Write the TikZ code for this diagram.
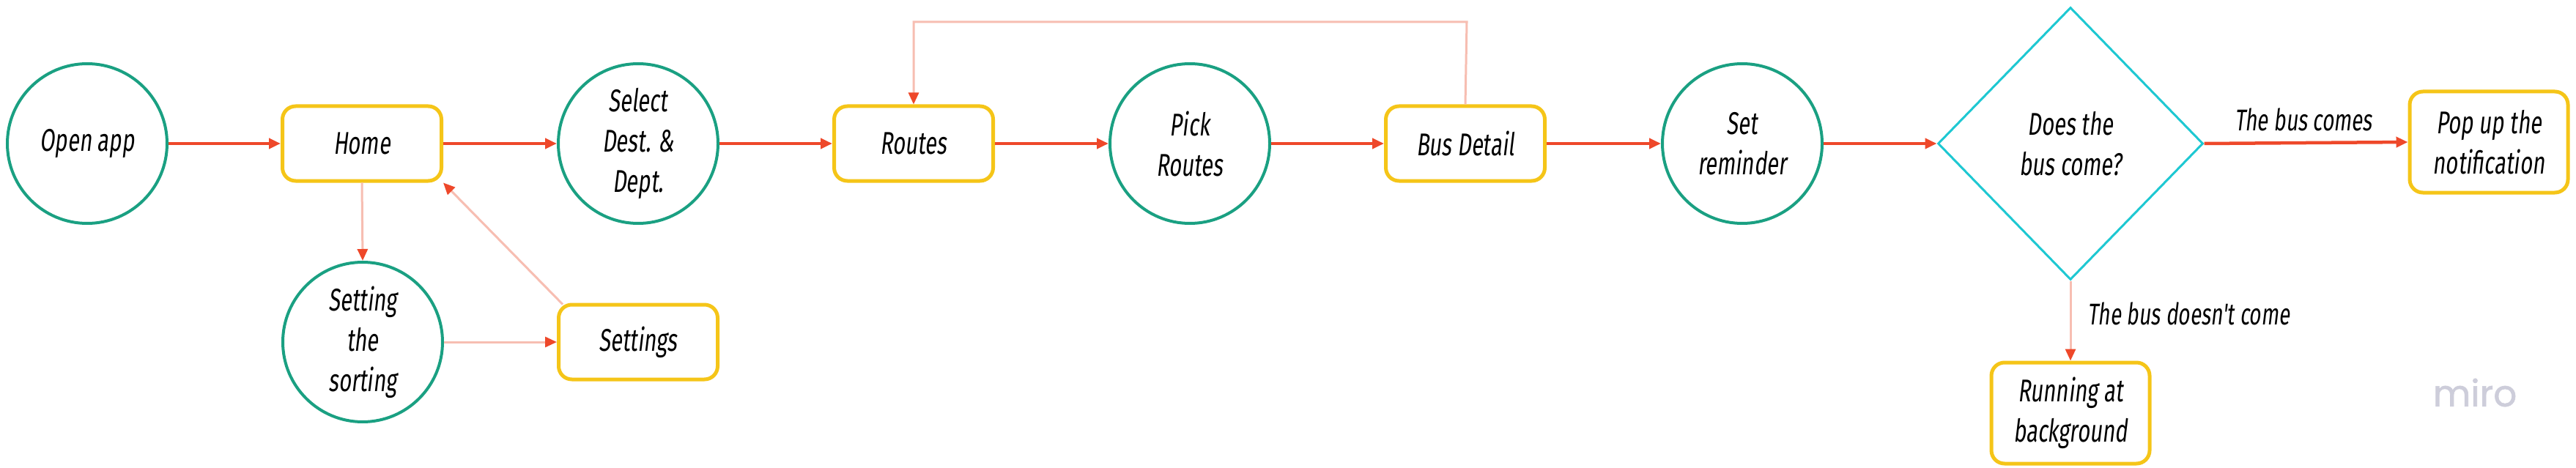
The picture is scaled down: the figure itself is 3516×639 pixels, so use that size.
\documentclass[tikz,border=0pt]{standalone}
\usepackage{fontspec}
\usetikzlibrary{arrows.meta,shapes.geometric}
\newfontfamily\hand{Fira Sans}[FakeStretch=0.68,FakeSlant=0.12]
\newfontfamily\logofont{Poppins}[FakeBold=1.2]
\definecolor{cgreen}{RGB}{26,160,130}
\definecolor{cyellow}{RGB}{245,197,24}
\definecolor{cred}{RGB}{238,72,42}
\definecolor{cpink}{RGB}{247,190,178}
\definecolor{ccyan}{RGB}{30,200,210}
\definecolor{clogo}{RGB}{205,205,218}
\tikzset{
  txt/.style={font=\hand\fontsize{43}{55}\selectfont, align=center, text=black},
  circ/.style={txt, circle, draw=cgreen, line width=4pt, minimum size=218pt, inner sep=0pt},
  rbox/.style={txt, rectangle, rounded corners=18pt, draw=cyellow, line width=5pt, minimum width=217pt, minimum height=102pt, inner sep=0pt},
  tbox/.style={rbox, minimum width=216pt, minimum height=138pt},
  dia/.style={txt, diamond, draw=ccyan, line width=3pt, minimum width=362pt, minimum height=372pt, inner sep=0pt},
  mainarrow/.style={draw=cred, line width=4.5pt, -{Triangle[length=16pt,width=14pt]}},
  sidearrow/.style={draw=cpink, line width=3pt, -{Triangle[length=16pt,width=14pt,color=cred]}},
  lbl/.style={font=\hand\fontsize{41}{48}\selectfont, text=black}
}
\begin{document}
\begin{tikzpicture}[x=1pt,y=-1pt]
\useasboundingbox (0,0) rectangle (3516,639);
\fill[white] (0,0) rectangle (3516,639);
\node[circ] (open) at (119,196) {Open app};
\node[rbox] (home) at (494,196) {Home};
\node[circ] (select) at (871,196) {Select\\Dest. \&\\Dept.};
\node[rbox] (routes) at (1247,196) {Routes};
\node[circ] (pick) at (1624,196) {Pick\\Routes};
\node[rbox] (busdetail) at (2000,196) {Bus Detail};
\node[circ] (remind) at (2378,196) {Set\\reminder};
\node[dia] (does) at (2826,196) {Does the\\bus come?};
\node[tbox] (popup) at (3397,194) {Pop up the\\notification};
\node[tbox] (running) at (2826,564) {Running at\\background};
\node[circ] (sorting) at (495,467) {Setting\\the\\sorting};
\node[rbox] (settings) at (871,467) {Settings};
\node[lbl] (comes) at (3144,163) {The bus comes};
\node[lbl, anchor=west] (notcome) at (2846,428) {The bus doesn't come};
\node[font=\logofont\fontsize{50}{60}\selectfont, text=clogo] (miro) at (3378,536) {miro};
\coordinate (loopA) at (2002,30);
\coordinate (loopB) at (1247,30);
\draw[mainarrow] (open) -- (home);
\draw[mainarrow] (home) -- (select);
\draw[mainarrow] (select) -- (routes);
\draw[mainarrow] (routes) -- (pick);
\draw[mainarrow] (pick) -- (busdetail);
\draw[mainarrow] (busdetail) -- (remind);
\draw[mainarrow] (remind) -- (does);
\draw[mainarrow] (does.east) -- (popup.west);
\draw[sidearrow] (does.south) -- (running.north);
\draw[sidearrow] (home.south) -- (sorting.north);
\draw[sidearrow] (sorting.east) -- (settings.west);
\draw[sidearrow] (settings.north west) ++(8,2) coordinate (sA) (sA) -- (home.south east);
\draw[sidearrow] (busdetail.north) -- (loopA) -- (loopB) -- (routes.north);
\end{tikzpicture}
\end{document}
